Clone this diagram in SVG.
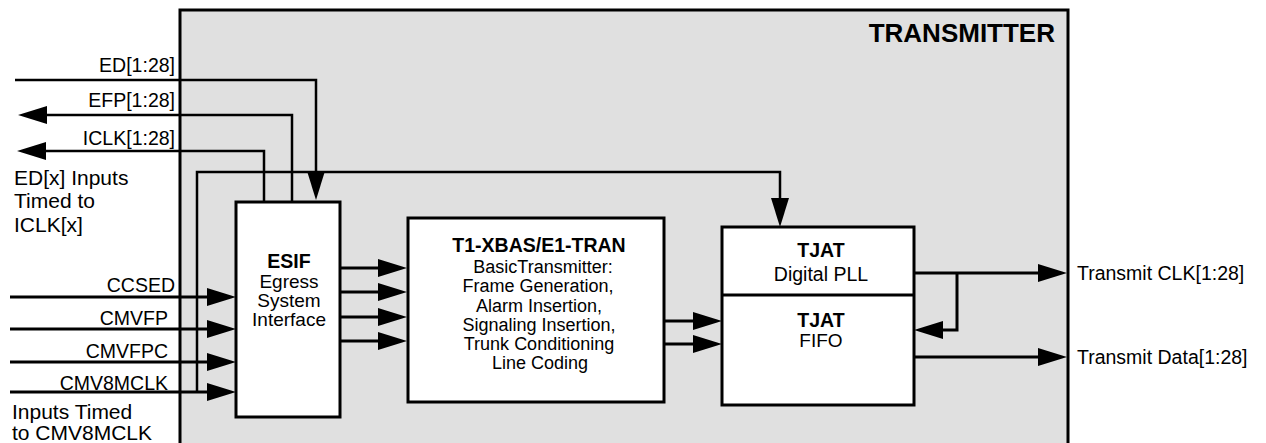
<svg xmlns="http://www.w3.org/2000/svg" width="1266" height="443" viewBox="0 0 1266 443">
<style>
text{font-family:"Liberation Sans",Arial,sans-serif;fill:#000}
.lbl{font-size:19.5px}
.note{font-size:21px}
.body{font-size:18px}
.ttl{font-size:19.5px;font-weight:bold}
.box{fill:#fff;stroke:#000;stroke-width:3}
.w{fill:none;stroke:#000;stroke-width:3;marker-end:url(#ah)}
.na{fill:none;stroke:#000;stroke-width:2.5;marker-end:url(#ah)}
</style>
<defs>
<marker id="ah" markerUnits="userSpaceOnUse" markerWidth="30" markerHeight="18" viewBox="0 0 29 18" refX="19" refY="9" orient="auto">
<path d="M0,0 L29,9 L0,18 z" fill="#000"/>
</marker>
</defs>
<g id="transmitter">
<rect x="180" y="10" width="888" height="450" fill="#e0e0e0" stroke="#000" stroke-width="3"/>
<text x="1055" y="42" text-anchor="end" style="font-size:26px;font-weight:bold">TRANSMITTER</text>
</g>
<g id="esif">
<rect class="box" x="236" y="202" width="104" height="215"/>
<text x="289" y="268" text-anchor="middle" class="ttl">ESIF</text>
<text x="289" y="288" text-anchor="middle" style="font-size:19px">Egress</text>
<text x="289" y="307" text-anchor="middle" style="font-size:19px">System</text>
<text x="289" y="326" text-anchor="middle" style="font-size:19px">Interface</text>
</g>
<g id="t1xbas">
<rect class="box" x="408" y="218" width="256" height="184"/>
<text x="539" y="252" text-anchor="middle" class="ttl">T1-XBAS/E1-TRAN</text>
<text x="543" y="273" text-anchor="middle" class="body">BasicTransmitter:</text>
<text x="538" y="292" text-anchor="middle" class="body">Frame Generation,</text>
<text x="539" y="312" text-anchor="middle" class="body">Alarm Insertion,</text>
<text x="539" y="331" text-anchor="middle" class="body">Signaling Insertion,</text>
<text x="539" y="350" text-anchor="middle" class="body">Trunk Conditioning</text>
<text x="540" y="369" text-anchor="middle" class="body">Line Coding</text>
</g>
<g id="tjat">
<rect class="box" x="722" y="227" width="192" height="178"/>
<line x1="722" y1="295" x2="914" y2="295" stroke="#000" stroke-width="3"/>
<text x="821" y="257" text-anchor="middle" class="ttl">TJAT</text>
<text x="821" y="281" text-anchor="middle" class="lbl">Digital PLL</text>
<text x="821" y="327" text-anchor="middle" class="ttl">TJAT</text>
<text x="821" y="347" text-anchor="middle" style="font-size:19px">FIFO</text>
</g>
<g id="connectors">
<path class="na" d="M15,80 H316 V190"/>
<path class="na" d="M292,202 V115 H28"/>
<path class="na" d="M264,202 V151 H27"/>
<path class="na" d="M197,392 V172 H780 V217"/>
<path class="w" d="M10,297 H226"/>
<path class="w" d="M10,329 H226"/>
<path class="w" d="M10,362 H226"/>
<path class="w" d="M10,392 H226"/>
<path class="w" d="M340,268 H397"/>
<path class="w" d="M340,292 H397"/>
<path class="w" d="M340,317 H397"/>
<path class="w" d="M340,341 H397"/>
<path class="w" d="M664,321 H712"/>
<path class="w" d="M664,344 H712"/>
<path class="w" d="M914,273 H1057"/>
<path class="w" d="M957,273 V330 H924"/>
<path class="w" d="M914,357 H1057"/>
</g>
<g id="labels">
<text x="175" y="72" text-anchor="end" class="lbl">ED[1:28]</text>
<text x="175" y="107" text-anchor="end" class="lbl">EFP[1:28]</text>
<text x="175" y="145" text-anchor="end" class="lbl">ICLK[1:28]</text>
<text x="14" y="185" class="note">ED[x] Inputs</text>
<text x="14" y="208" class="note">Timed to</text>
<text x="14" y="232" class="note">ICLK[x]</text>
<text x="175" y="292" text-anchor="end" class="lbl">CCSED</text>
<text x="168" y="325" text-anchor="end" class="lbl">CMVFP</text>
<text x="168" y="358" text-anchor="end" class="lbl">CMVFPC</text>
<text x="168" y="390" text-anchor="end" class="lbl">CMV8MCLK</text>
<text x="12" y="419" class="note">Inputs Timed</text>
<text x="12" y="440" class="note">to CMV8MCLK</text>
<text x="1077" y="280" class="lbl">Transmit CLK[1:28]</text>
<text x="1077" y="364" class="lbl">Transmit Data[1:28]</text>
</g>
</svg>
